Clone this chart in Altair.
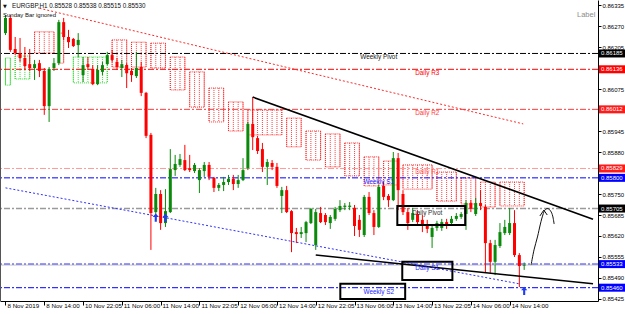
import altair as alt
import pandas as pd

# ---------------- data ----------------
opens = [0.86248, 0.86295, 0.86199, 0.86186, 0.86171, 0.86152, 0.86140, 0.86155, 0.86131, 0.86022,
         0.86140, 0.86155, 0.86282, 0.86236, 0.86230, 0.86211, 0.86118, 0.86152, 0.86137, 0.86090,
         0.86128, 0.86152, 0.86180, 0.86159, 0.86140, 0.86149, 0.86131, 0.86115, 0.86143, 0.86063,
         0.85933, 0.85694, 0.85750, 0.85660, 0.85694, 0.85824, 0.85840, 0.85855, 0.85830, 0.85821,
         0.85793, 0.85821, 0.85840, 0.85800, 0.85769, 0.85778, 0.85787, 0.85797, 0.85781, 0.85793,
         0.85830, 0.85967, 0.85923, 0.85889, 0.85834, 0.85846, 0.85834, 0.85744, 0.85762, 0.85697,
         0.85632, 0.85626, 0.85629, 0.85660, 0.85592, 0.85691, 0.85685, 0.85660, 0.85673, 0.85700,
         0.85710, 0.85710, 0.85707, 0.85670, 0.85623, 0.85741, 0.85691, 0.85648, 0.85775, 0.85744,
         0.85731, 0.85861, 0.85750, 0.85694, 0.85670, 0.85688, 0.85670, 0.85657, 0.85617, 0.85645,
         0.85645, 0.85663, 0.85660, 0.85673, 0.85679, 0.85688, 0.85722, 0.85688, 0.85722, 0.85710,
         0.85598, 0.85540, 0.85589, 0.85629, 0.85629, 0.85660, 0.85561, 0.85528]
highs = [0.86304, 0.86304, 0.86236, 0.86233, 0.86205, 0.86199, 0.86165, 0.86165, 0.86140, 0.86143,
         0.86171, 0.86289, 0.86295, 0.86258, 0.86233, 0.86248, 0.86174, 0.86174, 0.86149, 0.86149,
         0.86159, 0.86190, 0.86196, 0.86171, 0.86165, 0.86155, 0.86140, 0.86190, 0.86159, 0.86066,
         0.85939, 0.85769, 0.85762, 0.85765, 0.85889, 0.85871, 0.85874, 0.85902, 0.85871, 0.85846,
         0.85830, 0.85849, 0.85849, 0.85803, 0.85784, 0.85803, 0.85809, 0.85809, 0.85809, 0.85861,
         0.85973, 0.86050, 0.85930, 0.85908, 0.85858, 0.85855, 0.85846, 0.85772, 0.85775, 0.85700,
         0.85645, 0.85648, 0.85667, 0.85707, 0.85704, 0.85710, 0.85691, 0.85685, 0.85710, 0.85731,
         0.85722, 0.85725, 0.85716, 0.85685, 0.85747, 0.85756, 0.85700, 0.85778, 0.85787, 0.85750,
         0.85880, 0.85877, 0.85762, 0.85707, 0.85707, 0.85700, 0.85685, 0.85670, 0.85651, 0.85667,
         0.85673, 0.85673, 0.85682, 0.85691, 0.85694, 0.85731, 0.85731, 0.85738, 0.85762, 0.85716,
         0.85608, 0.85608, 0.85660, 0.85670, 0.85707, 0.85700, 0.85567, 0.85538]
lows = [0.86242, 0.86190, 0.86180, 0.86159, 0.86134, 0.86131, 0.86103, 0.86112, 0.85995, 0.85973,
        0.86131, 0.86149, 0.86227, 0.86202, 0.86205, 0.86174, 0.86097, 0.86134, 0.86087, 0.86087,
        0.86118, 0.86149, 0.86159, 0.86134, 0.86112, 0.86078, 0.86097, 0.86109, 0.86053, 0.85923,
        0.85577, 0.85670, 0.85639, 0.85648, 0.85691, 0.85806, 0.85834, 0.85821, 0.85818, 0.85815,
        0.85753, 0.85803, 0.85793, 0.85756, 0.85759, 0.85759, 0.85778, 0.85762, 0.85769, 0.85790,
        0.85824, 0.85886, 0.85874, 0.85818, 0.85778, 0.85824, 0.85769, 0.85691, 0.85691, 0.85570,
        0.85598, 0.85614, 0.85601, 0.85657, 0.85577, 0.85660, 0.85654, 0.85642, 0.85667, 0.85694,
        0.85700, 0.85700, 0.85620, 0.85617, 0.85617, 0.85685, 0.85623, 0.85645, 0.85731, 0.85710,
        0.85728, 0.85700, 0.85685, 0.85639, 0.85663, 0.85651, 0.85632, 0.85629, 0.85583, 0.85636,
        0.85636, 0.85642, 0.85654, 0.85667, 0.85673, 0.85639, 0.85694, 0.85682, 0.85700, 0.85506,
        0.85506, 0.85499, 0.85583, 0.85623, 0.85623, 0.85555, 0.85462, 0.85515]
closes = [0.86295, 0.86196, 0.86186, 0.86171, 0.86146, 0.86140, 0.86152, 0.86131, 0.86022, 0.86137,
          0.86155, 0.86282, 0.86236, 0.86220, 0.86208, 0.86227, 0.86149, 0.86143, 0.86090, 0.86134,
          0.86149, 0.86180, 0.86165, 0.86143, 0.86152, 0.86124, 0.86118, 0.86140, 0.86063, 0.85930,
          0.85691, 0.85750, 0.85660, 0.85697, 0.85827, 0.85843, 0.85858, 0.85824, 0.85824, 0.85840,
          0.85824, 0.85840, 0.85803, 0.85769, 0.85778, 0.85787, 0.85797, 0.85781, 0.85793, 0.85824,
          0.85967, 0.85926, 0.85883, 0.85834, 0.85849, 0.85834, 0.85775, 0.85762, 0.85694, 0.85629,
          0.85626, 0.85632, 0.85663, 0.85704, 0.85694, 0.85663, 0.85663, 0.85679, 0.85704, 0.85713,
          0.85714, 0.85714, 0.85651, 0.85639, 0.85741, 0.85691, 0.85648, 0.85772, 0.85741, 0.85731,
          0.85861, 0.85762, 0.85694, 0.85660, 0.85691, 0.85663, 0.85651, 0.85642, 0.85645, 0.85660,
          0.85663, 0.85651, 0.85673, 0.85682, 0.85688, 0.85722, 0.85704, 0.85722, 0.85713, 0.85598,
          0.85540, 0.85592, 0.85632, 0.85648, 0.85660, 0.85561, 0.85527, 0.85530]
bars = list(range(len(opens)))

date_ticks = list(range(0, 105, 8))
date_labels = ["8 Nov 2019", "8 Nov 14:00", "10 Nov 22:05", "11 Nov 06:00", "11 Nov 14:00",
               "11 Nov 22:05", "12 Nov 06:00", "12 Nov 14:00", "12 Nov 22:05", "13 Nov 06:00",
               "13 Nov 14:00", "13 Nov 22:05", "14 Nov 06:00", "14 Nov 14:00"]
price_ticks = [0.86335, 0.86270, 0.86205, 0.86075, 0.85945, 0.85880, 0.85750,
               0.85685, 0.85620, 0.85555, 0.85490, 0.85425]

level_names = ["Weekly Pivot", "Daily R3", "Daily R2", "Daily R1",
               "Weekly S1", "Daily Pivot", "Daily S1", "Weekly S2"]
level_prices = [0.86185, 0.86136, 0.86012, 0.85829, 0.85800, 0.85705, 0.85533, 0.85460]
level_colors = ["#000000", "#ff0000", "#ff3b3b", "#ff9a9a", "#0000ff", "#9a9a9a", "#0000ff", "#0000ff"]
level_widths = [1, 1, 1, 1, 1, 1.6, 1, 1]
level_text_colors = ["#202020", "#ff0000", "#ff3b3b", "#ff5a5a", "#2424ff", "#303030", "#2424ff", "#2424ff"]
level_label_bar = [77, 87, 87, 87, 77, 87, 87, 77]
level_box_colors = ["#000000", "#ff0000", "#ff1a1a", "#ff1a1a", "#0000ff", "#000000", "#0000ff", "#0000ff"]
bid_price = 0.85530

cloud_start = [0, 2, 6, 11, 14, 22, 26, 30, 34, 38, 42, 46, 50, 58, 62, 66, 70, 74, 78, 82, 89, 94, 98, 102]
cloud_end = [1, 5, 10, 12, 21, 25, 29, 33, 37, 41, 45, 49, 57, 61, 65, 69, 73, 77, 81, 88, 93, 97, 101, 107]
cloud_top = [0.86171, 0.86177, 0.86252, 0.86248, 0.86174, 0.86227, 0.86220, 0.86217, 0.86174, 0.86128,
             0.86078, 0.86035, 0.86010, 0.85985, 0.85945, 0.85936, 0.85908, 0.85865, 0.85852, 0.85840,
             0.85818, 0.85800, 0.85787, 0.85787]
cloud_bot = [0.86087, 0.86106, 0.86186, 0.86155, 0.86094, 0.86143, 0.86143, 0.86140, 0.86072, 0.86019,
             0.85973, 0.85945, 0.85933, 0.85896, 0.85855, 0.85834, 0.85806, 0.85775, 0.85778, 0.85765,
             0.85728, 0.85719, 0.85710, 0.85713]
cloud_kind = ["bull", "bull", "bear", "bear", "bull"] + ["bear"] * 19

trend_x0 = [51, 64]
trend_p0 = [0.86050, 0.85561]
trend_x1 = [121.2, 121.2]
trend_p1 = [0.85672, 0.85472]
red_dot_x = [7, 106.8]
red_dot_p = [0.86325, 0.85967]
blue_dot_x = [0, 106]
blue_dot_p = [0.85769, 0.85472]

sketch_x = [108.42, 109.03, 109.74, 110.34, 110.85, 111.26, 111.87, 112.47, 112.88, 113.18]
sketch_p = [0.85530, 0.85577, 0.85617, 0.85657, 0.85685, 0.85700, 0.85705, 0.85697, 0.85682, 0.85657]
head_x = [110.24, 111.05, 111.76]
head_p = [0.85682, 0.85700, 0.85685]

signal_bars = [31, 33, 107]
signal_prices = [0.85677, 0.85676, 0.85450]

box_x0 = [80.83, 81.85, 69.07]
box_x1 = [94.83, 92.19, 82.45]
box_p0 = [0.85713, 0.85540, 0.85472]
box_p1 = [0.85654, 0.85484, 0.85425]

header_text = ["EURGBP,H1  0.85528 0.85538 0.85515 0.85530"]
note_text = ["Sunday Bar ignored"]
corner_text = ["Label"]

# ---------------- scales / axes ----------------
FONT = "Liberation Sans"
xs = alt.Scale(domain=[-0.1014, 121.196], nice=False, zero=False)
ys = alt.Scale(domain=[0.854188, 0.863505], nice=False, zero=False)
label_expr = "[" + ",".join("'%s'" % s for s in date_labels) + "][round(datum.value/8)]"
xaxis = alt.Axis(values=date_ticks, labelExpr=label_expr, title=None, orient="bottom", grid=False,
                 tickSize=4, tickColor="black", domainColor="black", labelAlign="left",
                 labelBaseline="top", labelPadding=-3, labelOffset=1.5, labelFontSize=6.2, labelFont=FONT,
                 labelColor="black", labelOverlap=False, labelFlush=False)
yaxis = alt.Axis(values=price_ticks, format=".5f", title=None, orient="right", grid=False,
                 tickSize=3, tickColor="black", domainColor="black", labelFontSize=6, labelFont=FONT,
                 labelColor="black", labelPadding=1, labelOverlap=False, labelFlush=False)


def X(f):
    return alt.X(f, type="quantitative", scale=xs, axis=xaxis)


def Y(f):
    return alt.Y(f, type="quantitative", scale=ys, axis=yaxis)


# ---------------- tables ----------------
candles = pd.DataFrame({"bar": bars, "open": opens, "high": highs, "low": lows, "close": closes})
candles["col"] = ["#0a8a0a" if c >= o else "#ff0000" for o, c in zip(opens, closes)]

cloud_rows = []
for s, e, t, b, k in zip(cloud_start, cloud_end, cloud_top, cloud_bot, cloud_kind):
    for i in range(s, e + 1):
        cloud_rows.append({"bar": i, "top": t, "bot": b, "col": "#22dd22" if k == "bull" else "#ff2020"})
cloud_bars = pd.DataFrame(cloud_rows)
cloud_blocks = pd.DataFrame({"x0": cloud_start, "x1": cloud_end, "top": cloud_top, "bot": cloud_bot,
                             "col": ["#22dd22" if k == "bull" else "#ff2020" for k in cloud_kind]})

levels = pd.DataFrame({"name": level_names, "price": level_prices, "col": level_colors,
                       "w": level_widths, "tcol": level_text_colors, "lbar": level_label_bar,
                       "bcol": level_box_colors,
                       "ptxt": ["%.5f" % p for p in level_prices]})

trend = pd.DataFrame({"id": [0, 0, 1, 1], "bar": [trend_x0[0], trend_x1[0], trend_x0[1], trend_x1[1]],
                      "price": [trend_p0[0], trend_p1[0], trend_p0[1], trend_p1[1]]})
red_dot = pd.DataFrame({"bar": red_dot_x, "price": red_dot_p})
blue_dot = pd.DataFrame({"bar": blue_dot_x, "price": blue_dot_p})
sketch = pd.DataFrame({"bar": sketch_x, "price": sketch_p, "o": list(range(len(sketch_x)))})
head = pd.DataFrame({"bar": head_x, "price": head_p, "o": [0, 1, 2]})
signals = pd.DataFrame({"bar": signal_bars, "price": signal_prices})
boxes = pd.DataFrame({"x0": box_x0, "x1": box_x1, "p0": box_p0, "p1": box_p1})

# ---------------- layers ----------------
cloud_rules = alt.Chart(cloud_bars).mark_rule(strokeWidth=1, strokeDash=[1, 1], opacity=0.85).encode(
    x=X("bar"), y=Y("top"), y2="bot", color=alt.Color("col:N", scale=None))
cloud_outline = alt.Chart(cloud_blocks).mark_rect(fillOpacity=0, strokeWidth=1, strokeDash=[1, 1],
                                                  strokeOpacity=0.9).encode(
    x=X("x0"), x2="x1", y=Y("top"), y2="bot", stroke=alt.Stroke("col:N", scale=None))

level_rules = alt.Chart(levels).mark_rule(strokeDash=[6, 2, 2, 2]).encode(
    y=Y("price"), color=alt.Color("col:N", scale=None), strokeWidth=alt.StrokeWidth("w:Q", scale=None))
bid_rule = alt.Chart(pd.DataFrame({"price": [bid_price]})).mark_rule(color="#c4c4c4", strokeWidth=1).encode(
    y=Y("price"))

red_line = alt.Chart(red_dot).mark_line(color="#ff2a2a", strokeWidth=1, strokeDash=[2, 2]).encode(
    x=X("bar"), y=Y("price"))
blue_line = alt.Chart(blue_dot).mark_line(color="#3030ff", strokeWidth=1, strokeDash=[2, 2]).encode(
    x=X("bar"), y=Y("price"))

wicks = alt.Chart(candles).mark_rule(strokeWidth=1).encode(
    x=X("bar"), y=Y("low"), y2="high", color=alt.Color("col:N", scale=None))
bodies = alt.Chart(candles).mark_bar(size=3).encode(
    x=X("bar"), y=Y("open"), y2="close", color=alt.Color("col:N", scale=None))

trend_lines = alt.Chart(trend).mark_line(color="black", strokeWidth=1.6, clip=True).encode(
    x=X("bar"), y=Y("price"), detail="id:N")

level_text = alt.Chart(levels).mark_text(baseline="top", dy=1, fontSize=6.4, font=FONT).encode(
    x=X("lbar"), y=Y("price"), text="name:N", color=alt.Color("tcol:N", scale=None))

box_marks = alt.Chart(boxes).mark_rect(fillOpacity=0, stroke="black", strokeWidth=2).encode(
    x=X("x0"), x2="x1", y=Y("p0"), y2="p1")

sketch_line = alt.Chart(sketch).mark_line(color="#111111", strokeWidth=1, interpolate="cardinal").encode(
    x=X("bar"), y=Y("price"), order="o:Q")
head_line = alt.Chart(head).mark_line(color="#111111", strokeWidth=1).encode(
    x=X("bar"), y=Y("price"), order="o:Q")

arrow_path = "M0,-1L0.75,-0.15L0.25,-0.15L0.25,1L-0.25,1L-0.25,-0.15L-0.75,-0.15Z"
signal_marks = alt.Chart(signals).mark_point(shape=arrow_path, filled=True, color="#1f3cf0",
                                             size=70, opacity=1).encode(x=X("bar"), y=Y("price"))

price_boxes = alt.Chart(levels).mark_tick(orient="horizontal", size=27, thickness=8, opacity=1).encode(
    y=Y("price"), x=alt.value(612.5), color=alt.Color("bcol:N", scale=None))
price_box_text = alt.Chart(levels).mark_text(align="left", baseline="middle", fontSize=6, font=FONT,
                                             color="white").encode(
    y=Y("price"), x=alt.value(601), text="ptxt:N")

left_border = alt.Chart(pd.DataFrame({"a": [0]})).mark_rule(color="#555555", strokeWidth=1).encode(
    x=alt.value(0.5), y=alt.value(0), y2=alt.value(301))

header = alt.Chart(pd.DataFrame({"t": header_text})).mark_text(
    align="left", baseline="middle", fontSize=6.3, font=FONT, color="#111111").encode(
    x=alt.value(12), y=alt.value(6), text="t:N")
tri = alt.Chart(pd.DataFrame({"t": ["\u25BC"]})).mark_text(
    align="left", baseline="middle", fontSize=5, font="DejaVu Sans", color="#111111").encode(
    x=alt.value(3), y=alt.value(6), text="t:N")
note = alt.Chart(pd.DataFrame({"t": note_text})).mark_text(
    align="left", baseline="middle", fontSize=6, font=FONT, color="#111111").encode(
    x=alt.value(3), y=alt.value(15), text="t:N")
corner = alt.Chart(pd.DataFrame({"t": corner_text})).mark_text(
    align="left", baseline="middle", fontSize=7.5, font=FONT, color="#8c8c8c").encode(
    x=alt.value(577), y=alt.value(15), text="t:N")

chart = alt.layer(
    cloud_rules, cloud_outline, level_rules, bid_rule, red_line, blue_line,
    wicks, bodies, trend_lines, level_text, box_marks, sketch_line, head_line, signal_marks,
    price_boxes, price_box_text, left_border, header, tri, note, corner
).properties(
    width=598, height=301,
    autosize=alt.AutoSizeParams(type="none"),
    padding={"left": 0, "top": 0, "right": 27, "bottom": 13},
    background="white"
).configure_view(stroke=None)

chart.save("out.html", embed_options={"renderer": "svg", "actions": False})
